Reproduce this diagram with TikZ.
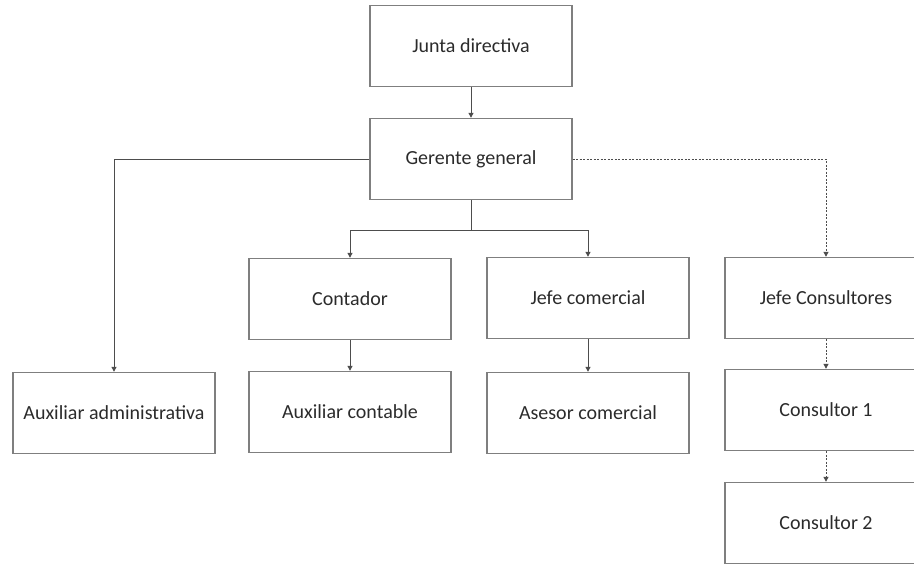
\documentclass[tikz,border=0pt]{standalone}
\usepackage{fontspec}
\setmainfont{Carlito}
\usetikzlibrary{calc,arrows.meta}
\definecolor{linec}{HTML}{4D4D4D}
\definecolor{boxc}{HTML}{7F7F7F}
\definecolor{txtc}{HTML}{2B2B2B}
\tikzset{
  ar/.style={-{Triangle[length=5pt,width=5pt]},line width=1pt,linec},
  dar/.style={ar,dash pattern=on 2pt off 1.5pt},
  box/.style={draw=boxc,line width=1.4pt,minimum width=202pt,minimum height=81pt,
    inner sep=0pt,text=txtc,font=\fontsize{20}{23}\selectfont}
}
\begin{document}
\begin{tikzpicture}[x=1pt,y=-1pt]
\useasboundingbox (0,0) rectangle (914,565);
\node[box] (junta) at (471,46) {Junta directiva};
\node[box] (gerente) at (471,159) {Gerente general};
\node[box] (contador) at (350,299) {Contador};
\node[box] (jefecom) at (588,298) {Jefe comercial};
\node[box] (jefecons) at (826,298) {Jefe Consultores};
\node[box] (auxadm) at (114,413) {Auxiliar administrativa};
\node[box] (auxcont) at (350,412) {Auxiliar contable};
\node[box] (asesor) at (588,413) {Asesor comercial};
\node[box] (cons1) at (826,410) {Consultor 1};
\node[box] (cons2) at (826,523) {Consultor 2};
\coordinate (split) at ($(gerente.south)+(0,30)$);
% lineas de mando
\draw[ar] (junta) -- (gerente);
\draw[ar] (gerente.west) -| (auxadm.north);
\draw[line width=1pt,linec] (gerente.south) -- (split);
\draw[ar] (split) -| (contador.north);
\draw[ar] (split) -| (jefecom.north);
\draw[ar] (contador) -- (auxcont);
\draw[ar] (jefecom) -- (asesor);
% consultoria
\draw[dar] (gerente.east) -| (jefecons.north);
\draw[dar] (jefecons) -- (cons1);
\draw[dar] (cons1) -- (cons2);
\end{tikzpicture}
\end{document}
